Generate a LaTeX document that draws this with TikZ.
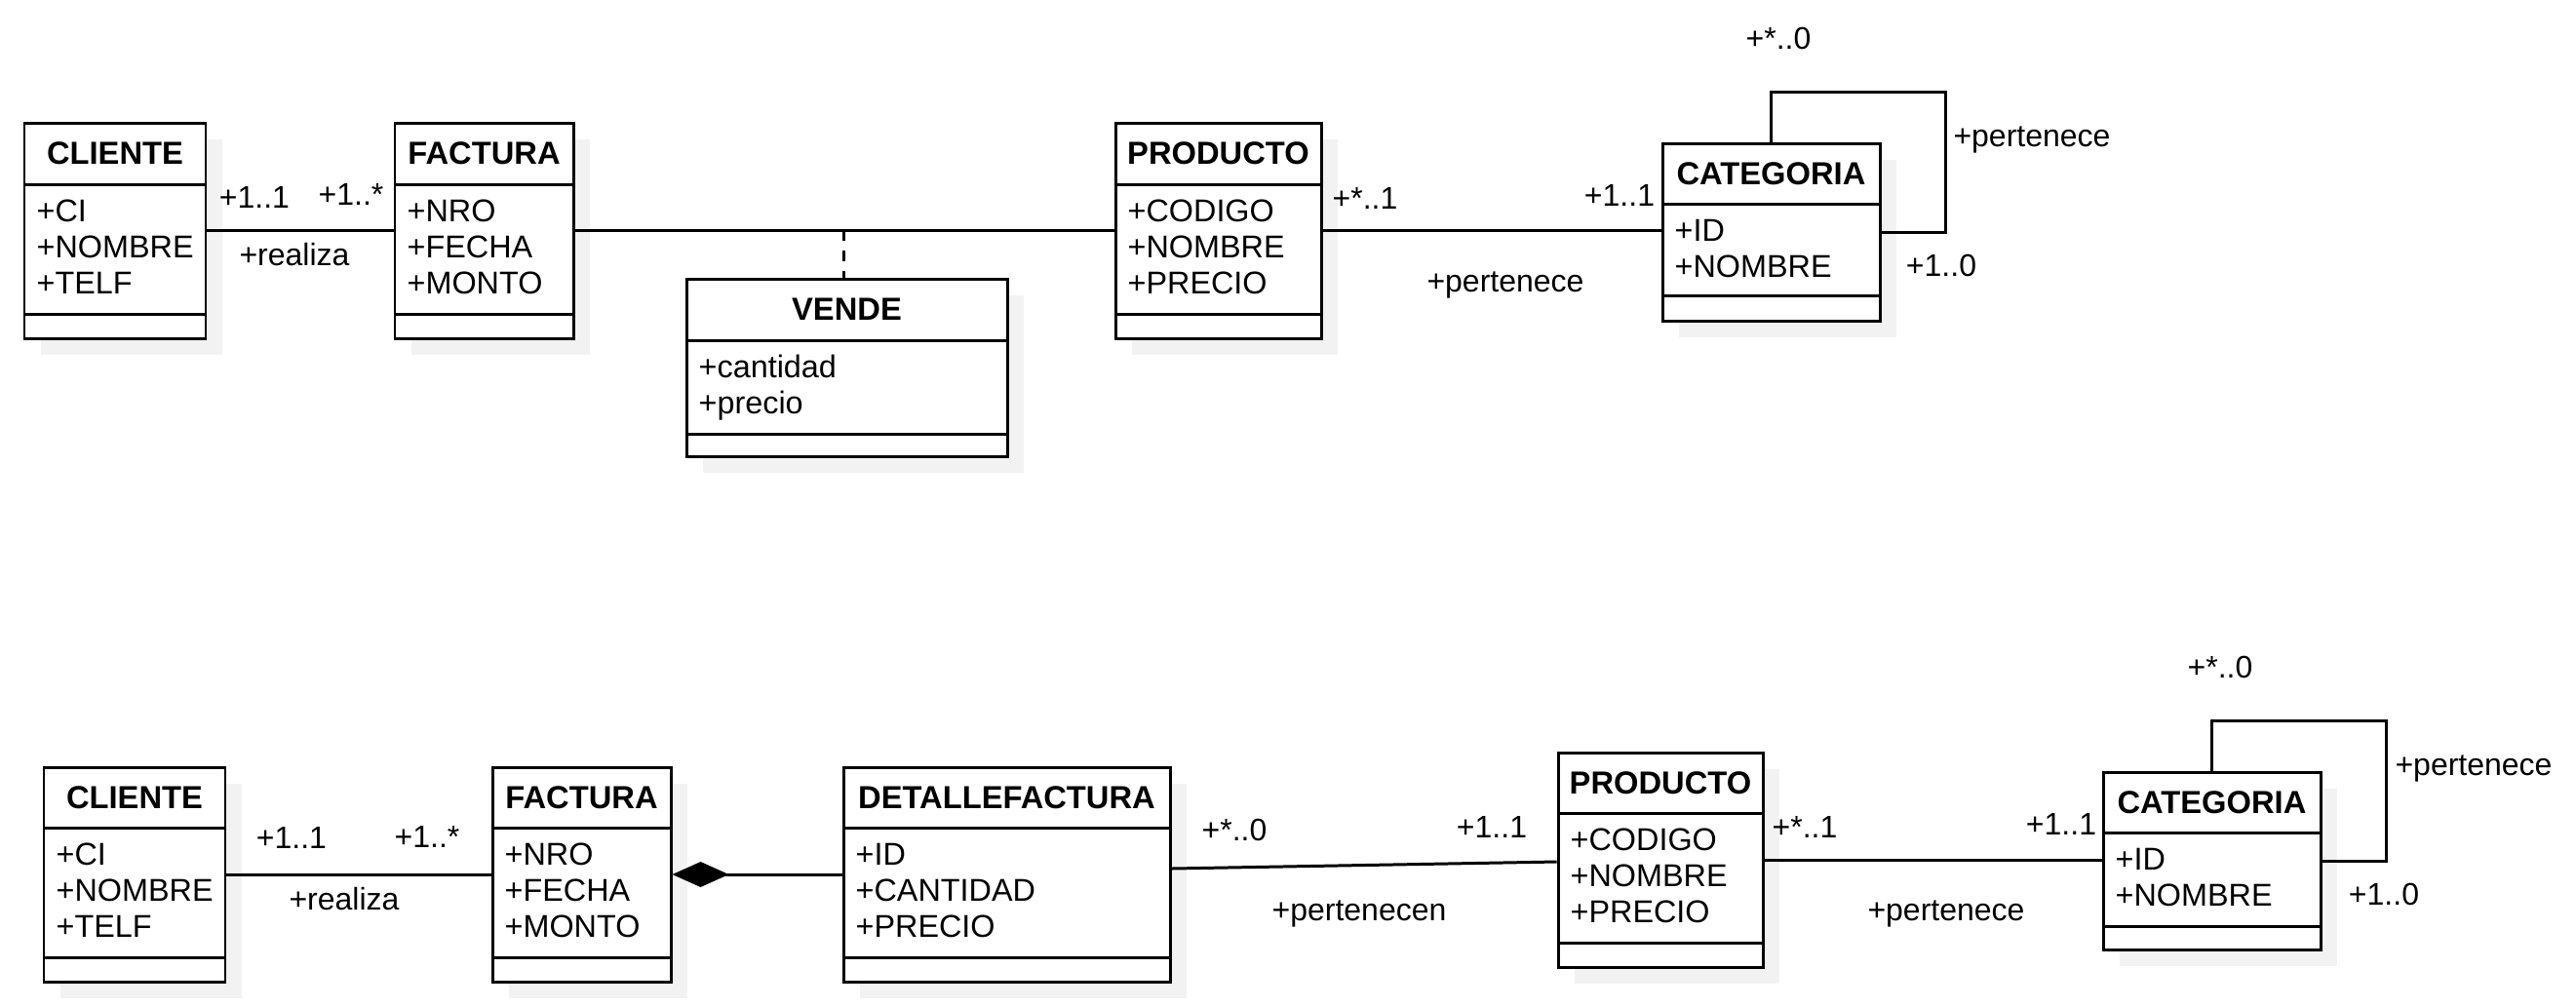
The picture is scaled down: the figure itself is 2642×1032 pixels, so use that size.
\documentclass[tikz,border=0pt]{standalone}
\usepackage{fontspec}
\setmainfont{Liberation Sans}
\usetikzlibrary{fit,arrows.meta}
\tikzset{
  boxline/.style={line width=0.85pt},
  shadowc/.style={fill=black!5},
  classtitle/.style={font=\fontsize{9.3}{11}\selectfont\bfseries, inner sep=0pt},
  attr/.style={font=\fontsize{9.2}{11}\selectfont, inner sep=0pt, anchor=base west},
  lbl/.style={font=\fontsize{9.1}{11}\selectfont, inner sep=0pt},
  conn/.style={line width=0.85pt},
}
% #1 name, #2 x1, #3 y1, #4 x2, #5 y2, #6 header sep, #7 attr sep, #8 title, #9 attributes
\newcommand{\umlclass}[9]{%
  \fill[shadowc] (#2+17,#3+17) rectangle (#4+17,#5+17);
  \node[fit={(#2,#3) (#4,#5)}, inner sep=0pt, draw, boxline, fill=white] (#1) {};
  \draw[boxline] (#2,#6) -- (#4,#6);
  \draw[boxline] (#2,#7) -- (#4,#7);
  \node[classtitle] (#1-t) at ({(#2+#4)/2},{(#3+#6)/2}) {#8};
  \foreach \a [count=\i from 0] in {#9} {
    \node[attr] (#1-a\i) at (#2+12,#6+38+37*\i) {\a};
  }
}
\begin{document}
\begin{tikzpicture}[x={(0.01cm,0)}, y={(0,-0.01cm)}]
\useasboundingbox (0,0) rectangle (2642,1032);
\fill[white] (0,0) rectangle (2642,1032);

% ---------- top diagram ----------
\umlclass{cli1}{25}{126}{211}{347}{189}{322}{CLIENTE}{+CI,+NOMBRE,+TELF}
\umlclass{fac1}{405}{126}{588}{347}{189}{322}{FACTURA}{+NRO,+FECHA,+MONTO}
\umlclass{ven}{704}{286}{1033}{468}{349}{445}{VENDE}{+cantidad,+precio}
\umlclass{prod1}{1144}{126}{1355}{347}{189}{322}{PRODUCTO}{+CODIGO,+NOMBRE,+PRECIO}
\umlclass{cat1}{1705}{147}{1928}{329}{209}{303}{CATEGORIA}{+ID,+NOMBRE}

\draw[conn] (cli1.east) -- (fac1.west);
\draw[conn] (fac1.east) -- (prod1.west);
\coordinate (mid1) at (865,236);
\draw[conn, dashed] (mid1) -- (mid1 |- ven.north);
\draw[conn] (prod1.east) -- (prod1.east -| cat1.west);
\coordinate (loop1) at (1995,94);
\draw[conn] (cat1.north) |- (loop1) |- (cat1.east);

\node[lbl] (t1) at (261,202) {+1..1};
\node[lbl] (t2) at (360,199) {+1..*};
\node[lbl] (t3) at (302,261) {+realiza};
\node[lbl] (t4) at (1400,203) {+*..1};
\node[lbl] (t5) at (1661,200) {+1..1};
\node[lbl] (t6) at (1544,292) {+pertenece};
\node[lbl] (t7) at (1824,39) {+*..0};
\node[lbl] (t8) at (2084,143) {+pertenece};
\node[lbl] (t9) at (1991,272) {+1..0};

% ---------- bottom diagram ----------
\umlclass{cli2}{45}{787}{231}{1007}{849}{982}{CLIENTE}{+CI,+NOMBRE,+TELF}
\umlclass{fac2}{505}{787}{688}{1007}{849}{982}{FACTURA}{+NRO,+FECHA,+MONTO}
\umlclass{det}{865}{787}{1200}{1007}{849}{982}{DETALLEFACTURA}{+ID,+CANTIDAD,+PRECIO}
\umlclass{prod2}{1598}{772}{1808}{992}{834}{967}{PRODUCTO}{+CODIGO,+NOMBRE,+PRECIO}
\umlclass{cat2}{2157}{792}{2380}{974}{854}{950}{CATEGORIA}{+ID,+NOMBRE}

\draw[conn] (cli2.east) -- (fac2.west);
\draw[conn, -{Diamond[length=5.8mm,width=2.6mm]}] (det.west) -- (fac2.east);
\draw[conn] (det.east |- 0,891) -- (prod2.west |- 0,884);
\draw[conn] (prod2.east) -- (prod2.east -| cat2.west);
\coordinate (loop2) at (2447,739);
\draw[conn] (cat2.north) |- (loop2) |- (cat2.east);

\node[lbl] (b1) at (299,859) {+1..1};
\node[lbl] (b2) at (438,858) {+1..*};
\node[lbl] (b3) at (353,922) {+realiza};
\node[lbl] (b4) at (1266,851) {+*..0};
\node[lbl] (b5) at (1530,848) {+1..1};
\node[lbl] (b6) at (1394,937) {+pertenecen};
\node[lbl] (b7) at (1851,848) {+*..1};
\node[lbl] (b8) at (2114,845) {+1..1};
\node[lbl] (b9) at (1996,937) {+pertenece};
\node[lbl] (b10) at (2277,684) {+*..0};
\node[lbl] (b11) at (2537,788) {+pertenece};
\node[lbl] (b12) at (2445,917) {+1..0};
\end{tikzpicture}
\end{document}
